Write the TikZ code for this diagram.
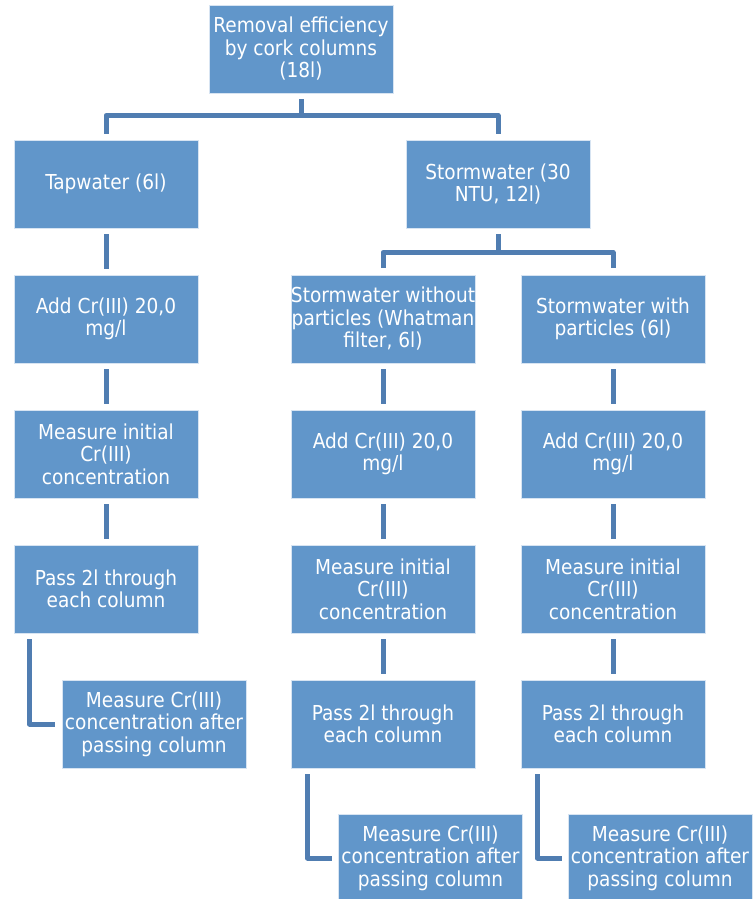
\documentclass[tikz,border=0pt]{standalone}
\usepackage{fontspec}
\setmainfont{DejaVu Sans Condensed}
\usetikzlibrary{calc}
\definecolor{boxfill}{RGB}{97,150,202}
\definecolor{boxedge}{RGB}{215,228,242}
\definecolor{connc}{RGB}{80,125,177}
\tikzset{
  flowbox/.style={rectangle, fill=boxfill, draw=boxedge, line width=0.8pt,
    minimum width=184pt, minimum height=88pt, inner sep=0pt, align=center,
    text=white, font=\fontsize{20.6}{22.5}\selectfont},
  conn/.style={draw=connc, line width=5pt, line join=round}
}
\begin{document}
\begin{tikzpicture}[x=1pt,y=-1pt]
\useasboundingbox (0,0) rectangle (753,899);
% row 1
\node[flowbox] (top) at (301,49) {Removal efficiency\\by cork columns\\(18l)};
% row 2
\node[flowbox] (tap) at (106,184) {Tapwater (6l)};
\node[flowbox] (storm) at (498,184) {Stormwater (30\\NTU, 12l)};
% row 3
\node[flowbox] (addL) at (106,319) {Add Cr(III) 20,0\\mg/l};
\node[flowbox] (noPart) at (383,319) {Stormwater without\\particles (Whatman\\filter, 6l)};
\node[flowbox] (withPart) at (613,319) {Stormwater with\\particles (6l)};
% row 4
\node[flowbox] (measL) at (106,454) {Measure initial\\Cr(III)\\concentration};
\node[flowbox] (addM) at (383,454) {Add Cr(III) 20,0\\mg/l};
\node[flowbox] (addR) at (613,454) {Add Cr(III) 20,0\\mg/l};
% row 5
\node[flowbox] (passL) at (106,589) {Pass 2l through\\each column};
\node[flowbox] (measM) at (383,589) {Measure initial\\Cr(III)\\concentration};
\node[flowbox] (measR) at (613,589) {Measure initial\\Cr(III)\\concentration};
% row 6
\node[flowbox] (afterL) at (154,724) {Measure Cr(III)\\concentration after\\passing column};
\node[flowbox] (passM) at (383,724) {Pass 2l through\\each column};
\node[flowbox] (passR) at (613,724) {Pass 2l through\\each column};
% row 7
\node[flowbox] (afterM) at (430.5,858) {Measure Cr(III)\\concentration after\\passing column};
\node[flowbox] (afterR) at (660,858) {Measure Cr(III)\\concentration after\\passing column};

% tree connectors
\draw[conn] ([yshift=-6pt]top.south) -- ([yshift=-22pt]top.south) -| ([yshift=6pt]tap.north);
\draw[conn] ([yshift=-22pt]top.south) -| ([yshift=6pt]storm.north);
\draw[conn] ([yshift=-6pt]storm.south) -- ([yshift=-24pt]storm.south) -| ([yshift=7pt]noPart.north);
\draw[conn] ([yshift=-24pt]storm.south) -| ([yshift=7pt]withPart.north);

% straight connectors
\foreach \a/\b in {tap/addL, addL/measL, measL/passL,
                   noPart/addM, addM/measM, measM/passM,
                   withPart/addR, addR/measR, measR/passR}
  \draw[conn] ([yshift=-6pt]\a.south) -- ([yshift=6pt]\b.north);

% elbow connectors
\draw[conn] ([xshift=16pt,yshift=-6pt]passL.south west) |- ([xshift=-7pt]afterL.west);
\draw[conn] ([xshift=17pt,yshift=-6pt]passM.south west) |- ([xshift=-6pt]afterM.west);
\draw[conn] ([xshift=17pt,yshift=-6pt]passR.south west) |- ([xshift=-6pt]afterR.west);
\end{tikzpicture}
\end{document}
